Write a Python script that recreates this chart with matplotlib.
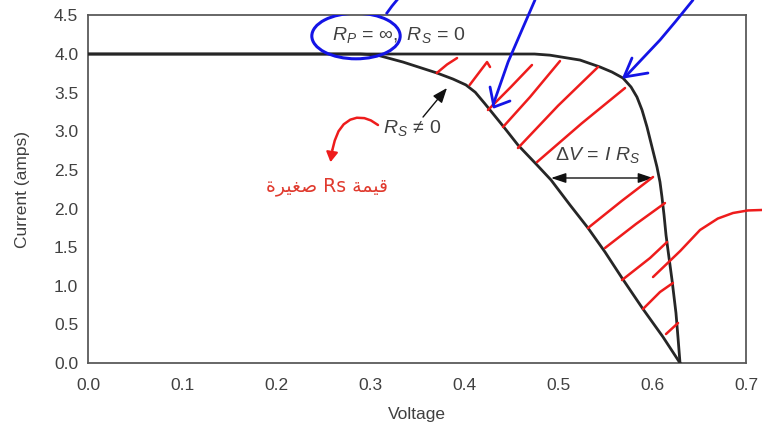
import numpy as np
import matplotlib
matplotlib.use("Agg")
import matplotlib.pyplot as plt
from matplotlib.patches import Ellipse

# I-V curves of a solar cell
v_ideal = [0.0, 0.475, 0.4915, 0.5234, 0.5447, 0.5574, 0.5691, 0.5777, 0.5840, 0.5894,
           0.5947, 0.6000, 0.6053, 0.6085, 0.6106, 0.6128, 0.6149, 0.6170, 0.6213,
           0.6255, 0.6277, 0.6298]
i_ideal = [4.0, 4.0, 3.985, 3.922, 3.832, 3.767, 3.689, 3.573, 3.443, 3.275,
           3.055, 2.796, 2.537, 2.343, 2.149, 1.916, 1.657, 1.463, 1.074,
           0.647, 0.324, 0.0]

v_series = [0.0, 0.29, 0.3074, 0.3351, 0.3713, 0.3883, 0.4020, 0.4120, 0.4220, 0.4415,
            0.4574, 0.4777, 0.4926, 0.5128, 0.5319, 0.5500, 0.5681, 0.5904, 0.6117,
            0.6298]
i_series = [4.0, 4.0, 3.987, 3.896, 3.754, 3.676, 3.600, 3.505, 3.360, 3.068,
            2.822, 2.563, 2.369, 2.045, 1.748, 1.437, 1.100, 0.699, 0.337,
            0.0]

x_ticks = [0.0, 0.1, 0.2, 0.3, 0.4, 0.5, 0.6, 0.7]
y_ticks = [0.0, 0.5, 1.0, 1.5, 2.0, 2.5, 3.0, 3.5, 4.0, 4.5]

# voltage drop across the series resistance at I = 2.4 A
dv_current = 2.395
dv_from, dv_to = 0.4926, 0.6011

plt.rcParams["mathtext.fontset"] = "custom"
plt.rcParams["mathtext.rm"] = "Liberation Sans"
plt.rcParams["mathtext.it"] = "Liberation Sans:italic"
plt.rcParams["font.family"] = ["Liberation Sans", "DejaVu Sans"]

fig = plt.figure(figsize=(7.62, 4.30), dpi=100)
ax = fig.add_axes([0.1155, 0.1558, 0.8635, 0.8084])

curve_color = "#262626"
text_color = "#404040"
ax.plot(v_ideal, i_ideal, color=curve_color, lw=2.0, solid_joinstyle="round", zorder=3)
ax.plot(v_series, i_series, color=curve_color, lw=2.0, solid_joinstyle="round", zorder=3)

ax.set_xlim(0, 0.7)
ax.set_ylim(0, 4.5)
ax.set_xticks(x_ticks)
ax.set_yticks(y_ticks)
ax.set_xticklabels([f"{t:.1f}" for t in x_ticks])
ax.set_yticklabels([f"{t:.1f}" for t in y_ticks])
ax.tick_params(axis="both", length=0, labelsize=12.5, labelcolor=text_color)
ax.tick_params(axis="x", pad=11)
ax.tick_params(axis="y", pad=7)
for sp in ax.spines.values():
    sp.set_color("#5a5a5a")
    sp.set_linewidth(1.3)

ax.set_xlabel("Voltage", fontsize=12.5, color=text_color)
ax.set_ylabel("Current (amps)", fontsize=12.5, color=text_color)
ax.xaxis.set_label_coords(0.5, -0.126)
ax.yaxis.set_label_coords(-0.088, 0.5)

# printed annotations
ax.text(0.331, 4.246, r"$R_P\,=\,\infty,\ R_S\,=\,0$", fontsize=14, color=text_color,
        ha="center", va="center")
ax.text(0.345, 3.042, r"$R_S\,\neq\,0$", fontsize=14, color=text_color,
        ha="center", va="center")
ax.annotate("", xy=(0.3819, 3.560), xytext=(0.3564, 3.184),
            arrowprops=dict(arrowstyle="-|>,head_length=0.9,head_width=0.35",
                            color="#111111", lw=1.0, shrinkA=0, shrinkB=0))
ax.text(0.5426, 2.693, r"$\Delta V\,=\,I\ R_S$", fontsize=14, color=text_color,
        ha="center", va="center")
ax.annotate("", xy=(dv_from, dv_current), xytext=(dv_to, dv_current),
            arrowprops=dict(arrowstyle="<|-|>,head_length=0.9,head_width=0.3",
                            color="#111111", lw=1.0, shrinkA=0, shrinkB=0))

# handwritten red marks: hatching between the two curves
red = "#ee1c1c"
red_strokes = [
    ([0.371, 0.382, 0.3926], [3.754, 3.865, 3.948]),
    ([0.406, 0.4245, 0.4277], [3.599, 3.896, 3.832]),
    ([0.4255, 0.450, 0.4723], [3.275, 3.575, 3.858]),
    ([0.4415, 0.4702, 0.5021], [3.055, 3.443, 3.909]),
    ([0.4574, 0.500, 0.5426], [2.783, 3.330, 3.832]),
    ([0.4777, 0.525, 0.5713], [2.602, 3.100, 3.560]),
    ([0.5319, 0.568, 0.6011], [1.748, 2.100, 2.408]),
    ([0.55, 0.583, 0.6138], [1.489, 1.800, 2.071]),
    ([0.5681, 0.5979, 0.6160], [1.074, 1.359, 1.566]),
    ([0.5904, 0.6085, 0.6223], [0.699, 0.919, 1.036]),
    ([0.6149, 0.6277], [0.375, 0.518]),
]
for xs, ys in red_strokes:
    ax.plot(xs, ys, color=red, lw=1.8, solid_capstyle="round",
            solid_joinstyle="round", zorder=4)

# long red stroke running off to the right
ax.plot([0.6011, 0.6300, 0.6511, 0.6700, 0.6862, 0.7020, 0.7170],
        [1.113, 1.45, 1.722, 1.87, 1.942, 1.975, 1.981],
        color=red, lw=1.8, solid_capstyle="round", solid_joinstyle="round",
        clip_on=False, zorder=4)

# red curved arrow pointing at the Arabic note
ax.plot([0.3085, 0.3010, 0.2940, 0.2860, 0.2790, 0.2720, 0.2665, 0.2625, 0.2600],
        [3.081, 3.140, 3.170, 3.175, 3.150, 3.090, 3.000, 2.880, 2.76],
        color=red, lw=1.8, solid_capstyle="round", solid_joinstyle="round", zorder=4)
ax.annotate("", xy=(0.2580, 2.60), xytext=(0.2600, 2.76),
            arrowprops=dict(arrowstyle="-|>,head_length=0.6,head_width=0.35",
                            color=red, lw=1.5, shrinkA=0, shrinkB=0))

# Arabic note "قيمة Rs صغيرة", given as presentation forms in display order
note = "\uFE93\uFEAE\uFEF4\uFED0\uFEBB Rs \uFE94\uFEE4\uFEF4\uFED7"
ax.text(0.254, 2.29, note, fontsize=13.5, color="#e03a2e", ha="center", va="center",
        family=["DejaVu Sans"])

# handwritten blue marks
blue = "#1414e6"
ax.add_patch(Ellipse((0.2851, 4.233), 0.094, 0.59, fill=False, ec=blue, lw=2.2,
                     zorder=5))
ax.plot([0.318, 0.3234, 0.3287], [4.531, 4.621, 4.699], color=blue, lw=2.0,
        clip_on=False, zorder=5)
ax.plot([0.4755, 0.4630, 0.4470, 0.4309], [4.699, 4.350, 3.900, 3.340],
        color=blue, lw=2.0, clip_on=False, solid_capstyle="round", zorder=5)
ax.plot([0.4277, 0.4319, 0.4489], [3.573, 3.314, 3.392], color=blue, lw=2.0,
        solid_joinstyle="round", solid_capstyle="round", zorder=5)
ax.plot([0.6436, 0.6250, 0.6085, 0.5713], [4.699, 4.420, 4.181, 3.702],
        color=blue, lw=2.0, clip_on=False, solid_capstyle="round", zorder=5)
ax.plot([0.5787, 0.5702, 0.5957], [3.948, 3.702, 3.754], color=blue, lw=2.0,
        solid_joinstyle="round", solid_capstyle="round", zorder=5)

fig.savefig("out.png", dpi=100)
